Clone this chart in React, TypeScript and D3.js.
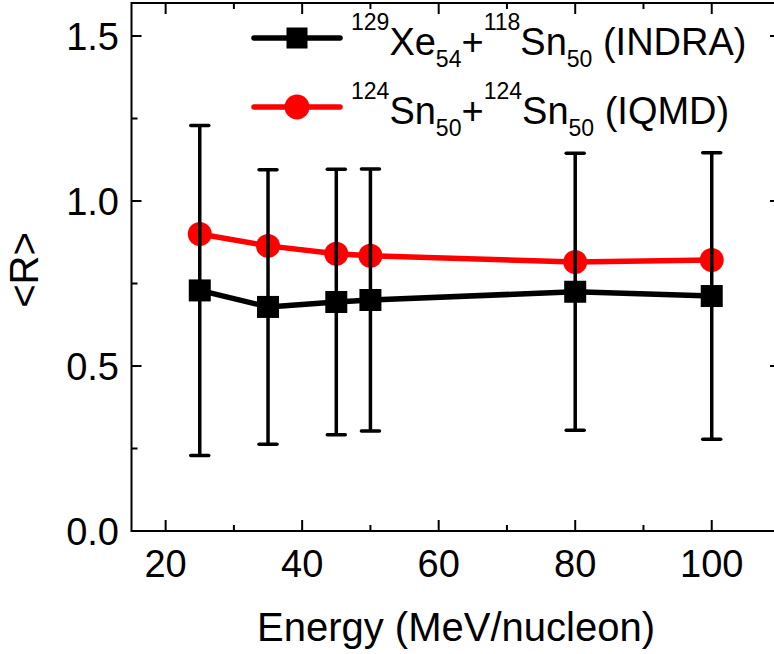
import React from "react";
import * as d3 from "d3";

const energies = [25, 35, 45, 50, 80, 100];
const indraR = [0.729, 0.679, 0.694, 0.7, 0.725, 0.712];
const indraErr = [0.5, 0.416, 0.402, 0.397, 0.42, 0.434];
const iqmdR = [0.9, 0.864, 0.84, 0.834, 0.815, 0.821];
const xMajor = [20, 40, 60, 80, 100];
const xMinor = [30, 50, 70, 90];
const yMajor = [0, 0.5, 1.0, 1.5];
const yMinor = [0.25, 0.75, 1.25];

const W = 774;
const H = 654;
const FONT = "'Liberation Sans', Arial, Helvetica, sans-serif";

export default function App() {
  const x = d3.scaleLinear().domain([15, 110]).range([131.5, 780]);
  const y = d3.scaleLinear().domain([0, 1.6]).range([531, 3]);
  const [x0, x1] = x.range();
  const [y0, y1] = y.range();

  const line = d3
    .line<number>()
    .x((_, i) => x(energies[i]))
    .y((d) => y(d));

  const sq = 22;
  const cap = 9;

  return (
    <svg
      width={W}
      height={H}
      style={{ position: "absolute", left: 0, top: 0, background: "#fff" }}
      fontFamily={FONT}
    >
      <rect x={0} y={0} width={W} height={H} fill="#fff" />
      <rect x={x0} y={y1} width={x1 - x0} height={y0 - y1} fill="none" stroke="#000" strokeWidth={2} />
      {xMajor.map((t) => (
        <g key={"xM" + t}>
          <line x1={x(t)} x2={x(t)} y1={y0} y2={y0 - 11} stroke="#000" strokeWidth={2} />
          <line x1={x(t)} x2={x(t)} y1={y1} y2={y1 + 11} stroke="#000" strokeWidth={2} />
          <text x={x(t)} y={577} fontSize={38} textAnchor="middle" fill="#000">
            {t}
          </text>
        </g>
      ))}
      {xMinor.map((t) => (
        <g key={"xm" + t}>
          <line x1={x(t)} x2={x(t)} y1={y0} y2={y0 - 6} stroke="#000" strokeWidth={2} />
          <line x1={x(t)} x2={x(t)} y1={y1} y2={y1 + 6} stroke="#000" strokeWidth={2} />
        </g>
      ))}
      {yMajor.map((t) => (
        <g key={"yM" + t}>
          <line x1={x0} x2={x0 + 10} y1={y(t)} y2={y(t)} stroke="#000" strokeWidth={2} />
          <line x1={x1} x2={x1 - 10} y1={y(t)} y2={y(t)} stroke="#000" strokeWidth={2} />
          <text x={119} y={y(t) + 14} fontSize={38} textAnchor="end" fill="#000">
            {t.toFixed(1)}
          </text>
        </g>
      ))}
      {yMinor.map((t) => (
        <g key={"ym" + t}>
          <line x1={x0} x2={x0 + 6} y1={y(t)} y2={y(t)} stroke="#000" strokeWidth={2} />
          <line x1={x1} x2={x1 - 6} y1={y(t)} y2={y(t)} stroke="#000" strokeWidth={2} />
        </g>
      ))}
      <text x={456} y={641} fontSize={40} textAnchor="middle" fill="#000">
        Energy (MeV/nucleon)
      </text>
      <text transform="translate(38,270) rotate(-90)" fontSize={40} textAnchor="middle" fill="#000">
        {"<R>"}
      </text>

      <path d={line(iqmdR) || ""} fill="none" stroke="#ff0000" strokeWidth={5.5} strokeLinejoin="round" />
      {iqmdR.map((v, i) => (
        <circle key={"c" + i} cx={x(energies[i])} cy={y(v)} r={12} fill="#ff0000" />
      ))}

      {indraR.map((v, i) => {
        const cx = x(energies[i]);
        const top = y(v + indraErr[i]);
        const bot = y(v - indraErr[i]);
        return (
          <g key={"e" + i} stroke="#000" strokeWidth={3.5}>
            <line x1={cx} x2={cx} y1={top} y2={bot} />
            <line x1={cx - cap} x2={cx + cap} y1={top} y2={top} strokeLinecap="round" />
            <line x1={cx - cap} x2={cx + cap} y1={bot} y2={bot} strokeLinecap="round" />
          </g>
        );
      })}
      <path d={line(indraR) || ""} fill="none" stroke="#000" strokeWidth={5.5} strokeLinejoin="round" />
      {indraR.map((v, i) => (
        <rect key={"s" + i} x={x(energies[i]) - sq / 2} y={y(v) - sq / 2} width={sq} height={sq} fill="#000" />
      ))}

      <line x1={254} x2={340} y1={38} y2={38} stroke="#000" strokeWidth={5.5} strokeLinecap="round" />
      <rect x={297 - 10.5} y={38 - 10.5} width={21} height={21} fill="#000" />
      <line x1={254} x2={340} y1={107} y2={107} stroke="#ff0000" strokeWidth={5.5} strokeLinecap="round" />
      <circle cx={297} cy={107} r={12.5} fill="#ff0000" />

      <text x={351} y={55} fontSize={38} fill="#000">
        <tspan fontSize={23} dy={-25}>129</tspan>
        <tspan dy={25}>Xe</tspan>
        <tspan fontSize={23} dy={12}>54</tspan>
        <tspan dy={-12}>+</tspan>
        <tspan fontSize={23} dy={-25}>118</tspan>
        <tspan dy={25}>Sn</tspan>
        <tspan fontSize={23} dy={12}>50</tspan>
        <tspan dy={-12}> (INDRA)</tspan>
      </text>
      <text x={351} y={124} fontSize={38} fill="#000">
        <tspan fontSize={23} dy={-25}>124</tspan>
        <tspan dy={25}>Sn</tspan>
        <tspan fontSize={23} dy={12}>50</tspan>
        <tspan dy={-12}>+</tspan>
        <tspan fontSize={23} dy={-25}>124</tspan>
        <tspan dy={25}>Sn</tspan>
        <tspan fontSize={23} dy={12}>50</tspan>
        <tspan dy={-12}> (IQMD)</tspan>
      </text>
    </svg>
  );
}
